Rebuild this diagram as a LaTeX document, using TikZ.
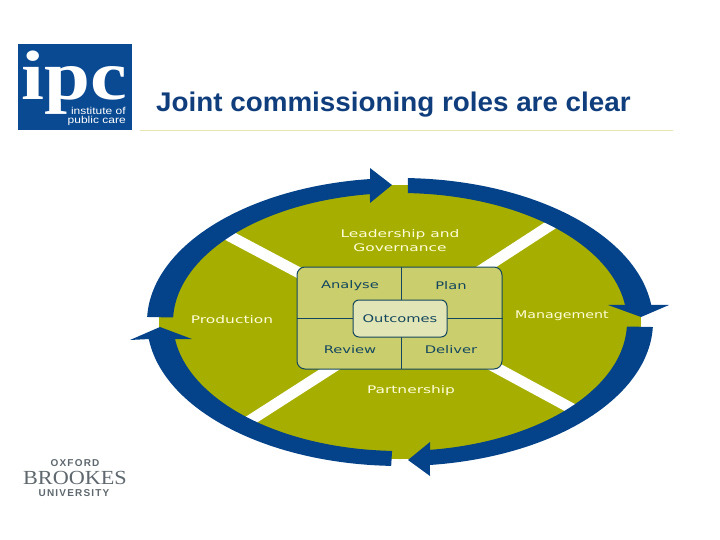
\documentclass[tikz,border=0pt]{standalone}
\usepackage{fontspec}
\setmainfont{Liberation Sans}
\newfontfamily\wheelfont{DejaVu Sans}
\newfontfamily\logofont{Liberation Serif}
\newfontfamily\spacedfont[LetterSpace=12]{Liberation Sans}
\definecolor{ringblue}{HTML}{044289}
\definecolor{wheelgreen}{HTML}{A6AF00}
\definecolor{panelgreen}{HTML}{CACE6C}
\definecolor{corepale}{HTML}{E2E5B5}
\definecolor{paneledge}{HTML}{14475F}
\definecolor{titleblue}{HTML}{103E7C}
\definecolor{logoblue}{HTML}{0A4A93}
\definecolor{brookesgrey}{HTML}{5F686E}
\definecolor{rulepale}{HTML}{E8E6B0}
\tikzset{
  wheeltext/.style={font=\wheelfont\fontsize{10.5}{14}\selectfont,text=white!85!yellow,xscale=1.47,inner sep=0pt,align=center},
  paneltext/.style={font=\wheelfont\fontsize{10.5}{12}\selectfont,text=paneledge,xscale=1.4,inner sep=0pt},
  spoke/.style={white,line width=11pt},
  declare function={ox(\t)=400+253*cos(\t); oy(\t)=322-144*sin(\t);
    ix(\t)=400+227*cos(\t); iy(\t)=322-129*sin(\t);}
}
\begin{document}
\begin{tikzpicture}[x=1pt,y=-1pt]
    \useasboundingbox (0,0) rectangle (720,540);
    % header
    \node[fill=logoblue,minimum width=114pt,minimum height=86pt,inner sep=0pt] (logo) at (75,87) {};
    \node[anchor=base,text=white,inner sep=0pt,xscale=1.18,font=\logofont\bfseries\fontsize{70}{70}\selectfont] (ipc) at (74.5,100) {ipc};
    \node[anchor=base east,text=white,inner sep=0pt,xscale=1.2,font=\fontsize{10}{10}\selectfont] (inst) at (126,114.5) {institute of};
    \node[anchor=base east,text=white,inner sep=0pt,xscale=1.2,font=\fontsize{10}{10}\selectfont] (pub) at (126,124) {public care};
    \node[anchor=base west,text=titleblue,inner sep=0pt,xscale=1.03,font=\bfseries\fontsize{27}{27}\selectfont] (title) at (156,112) {Joint commissioning roles are clear};
    \coordinate (ruleL) at (140,130);
    \coordinate (ruleR) at (673,130);
    \draw[rulepale,line width=0.8pt] (ruleL) -- (ruleR);
    % wheel
    \fill[wheelgreen] (400,322) ellipse [x radius=241,y radius=137];
    \coordinate (tlA) at (305,276); \coordinate (tlB) at (222,232);
    \coordinate (trA) at (470,277.5); \coordinate (trB) at (560,219);
    \coordinate (blA) at (345,359.5); \coordinate (blB) at (243,425);
    \coordinate (brA) at (482,360); \coordinate (brB) at (578,412);
    \draw[spoke] (tlA) -- (tlB);
    \draw[spoke] (trA) -- (trB);
    \draw[spoke] (blA) -- (blB);
    \draw[spoke] (brA) -- (brB);
    % arrows round the rim
    \fill[ringblue] plot[domain=178:96.8,variable=\t,samples=50] ({ox(\t)},{oy(\t)})
      -- (370,168) -- (392,185) -- (370,203)
      -- plot[domain=97.6:178,variable=\t,samples=50] ({ix(\t)},{iy(\t)}) -- cycle;
    \fill[ringblue] plot[domain=88.2:6.8,variable=\t,samples=50] ({ox(\t)},{oy(\t)})
      -- (669,305) -- (641,317) -- (608,305)
      -- plot[domain=7.6:88,variable=\t,samples=50] ({ix(\t)},{iy(\t)}) -- cycle;
    \fill[ringblue] plot[domain=-2:-83.2,variable=\t,samples=50] ({ox(\t)},{oy(\t)})
      -- (430,476) -- (408,460) -- (430,442)
      -- plot[domain=-82.4:-2,variable=\t,samples=50] ({ix(\t)},{iy(\t)}) -- cycle;
    \fill[ringblue] plot[domain=268:186.8,variable=\t,samples=50] ({ox(\t)},{oy(\t)})
      -- (130,340) -- (160,327) -- (192,339)
      -- plot[domain=187.6:268,variable=\t,samples=50] ({ix(\t)},{iy(\t)}) -- cycle;
    % centre panel
    \node[draw=paneledge,fill=panelgreen,line width=1pt,rounded corners=8pt,minimum width=205pt,minimum height=102pt,inner sep=0pt] (panel) at (399.5,318) {};
    \draw[paneledge,line width=1pt] (panel.north) ++(1.5,0) -- ++(0,102);
    \draw[paneledge,line width=0.8pt] (panel.west) -- (panel.east);
    \node[draw=paneledge,fill=corepale,line width=1pt,rounded corners=6pt,minimum width=94pt,minimum height=37pt,inner sep=0pt] (core) at (400,318.5) {};
    \node[paneltext] (outcomes) at (core) {Outcomes};
    \node[paneltext] (analyse) at (350,286) {Analyse};
    \node[paneltext] (plan) at (451,286) {Plan};
    \node[paneltext] (review) at (350,349.5) {Review};
    \node[paneltext] (deliver) at (451,349.5) {Deliver};
    \node[wheeltext] (lead) at (400,240.5) {Leadership and\\Governance};
    \node[wheeltext] (prod) at (232,320) {Production};
    \node[wheeltext,xscale=0.92] (mgmt) at (562,316) {Management};
    \node[wheeltext] (part) at (411,390.5) {Partnership};
    % university mark
    \node[text=brookesgrey,inner sep=0pt,font=\spacedfont\bfseries\fontsize{10}{10}\selectfont] (oxf) at (75,463) {OXFORD};
    \node[text=brookesgrey,inner sep=0pt,xscale=1.11,font=\logofont\fontsize{20}{20}\selectfont] (brk) at (75,477.5) {BROOKES};
    \node[text=brookesgrey,inner sep=0pt,font=\spacedfont\bfseries\fontsize{10}{10}\selectfont] (uni) at (74,493) {UNIVERSITY};
\end{tikzpicture}
\end{document}
